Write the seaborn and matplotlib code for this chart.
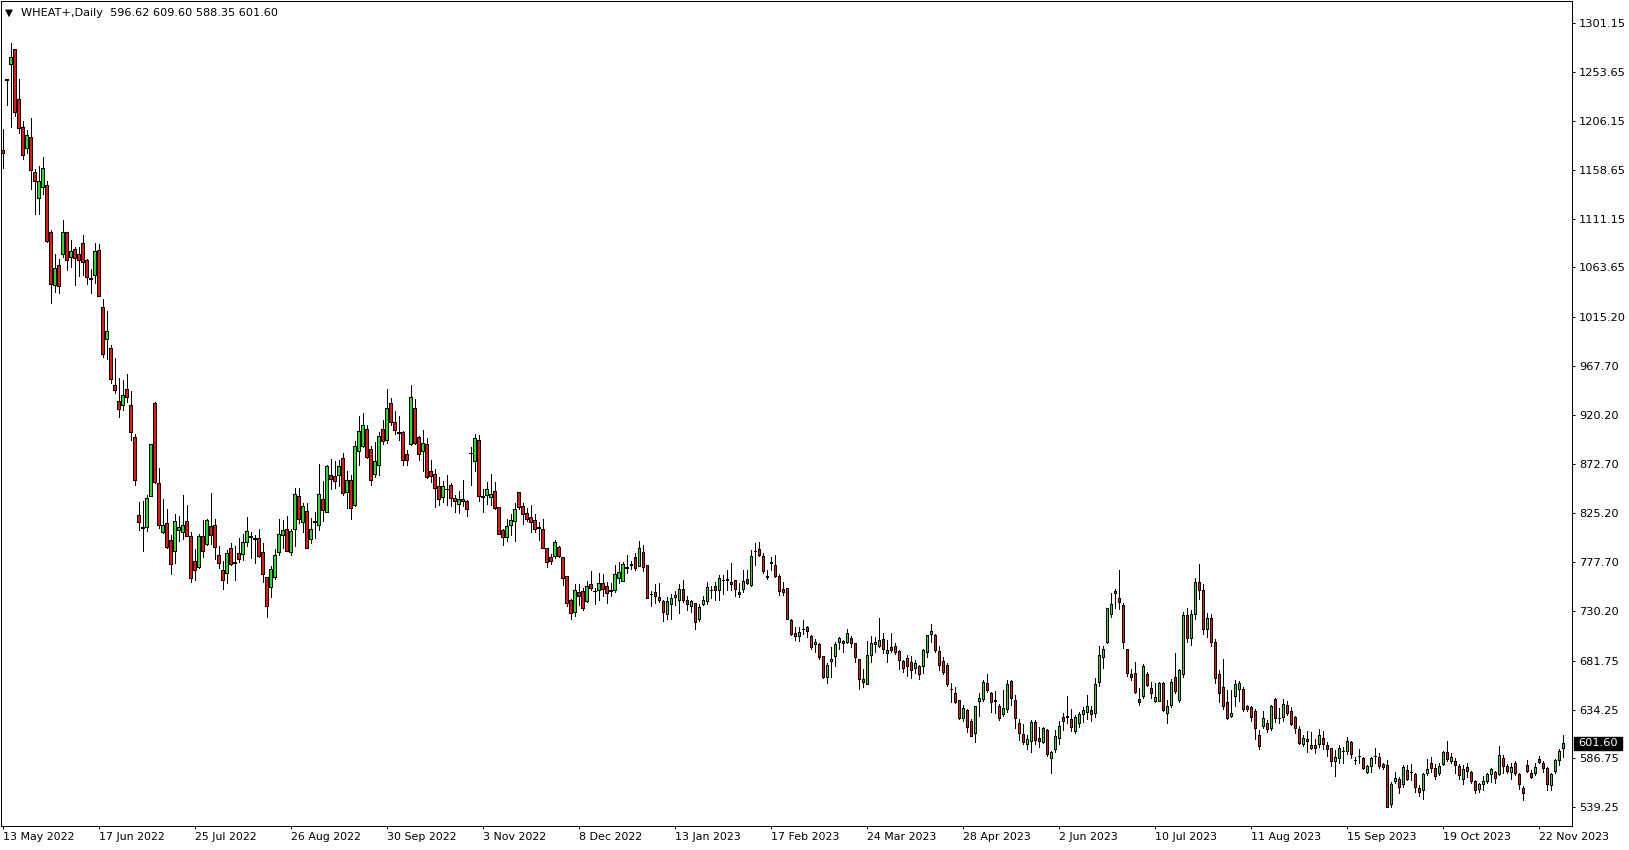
import matplotlib
matplotlib.use("Agg")
import matplotlib.pyplot as plt
import matplotlib.transforms as mtransforms
from matplotlib.patches import Rectangle
import numpy as np
import pandas as pd
import seaborn as sns

# ---------------- data ----------------
symbol = "WHEAT+"
timeframe = "Daily"
start_date = "2022-05-13"
holidays = ["2022-05-30", "2022-06-20", "2022-07-04", "2022-09-05", "2022-11-24",
            "2022-12-26", "2023-01-02", "2023-01-16", "2023-02-20", "2023-04-07",
            "2023-05-29", "2023-06-19", "2023-07-04", "2023-09-04", "2023-11-23"]

opens = [
    1178, 1246.5, 1261, 1276, 1227, 1200, 1180, 1190, 1156, 1131,
    1141.5, 1144, 1098, 1047, 1066, 1077, 1098, 1074, 1082, 1077,
    1087, 1071, 1053, 1056, 1081, 1025, 994, 985, 949, 934,
    930, 946, 930, 899, 823, 812, 812, 842, 932, 854,
    807, 815, 799, 788, 809, 807, 817, 803, 779, 773,
    803, 795, 812.5, 813, 784, 769.5, 767, 791, 777.5, 786,
    785, 797, 802.5, 801, 801, 787, 763, 753, 763, 787,
    804, 810, 787, 810, 842, 816, 827, 800, 817, 813.5,
    839, 826.5, 862, 861, 862, 879, 846, 857, 833, 885,
    890.5, 907, 887, 863, 872, 907, 896, 932, 914, 903.5,
    904, 882, 892, 927, 899, 885, 892, 866, 863, 851,
    841, 848.5, 852, 840, 833.6, 839, 837, 883.5, 876, 896,
    841.5, 843, 841, 846.5, 831, 808.6, 802, 813, 817, 845.5,
    832, 825, 821.6, 818, 811.5, 810, 791.5, 782, 783, 792.5,
    782, 764, 741, 729, 748, 749, 740, 756, 749.5, 750,
    757, 754, 749, 750, 762, 759, 772.5, 775.5, 782, 774,
    787, 775, 746.5, 748, 744, 740, 727, 737, 744, 741,
    751, 741, 735, 738, 722, 737, 740, 750.5, 754.6, 750,
    760.5, 760.5, 758, 760, 748, 751, 760.7, 755, 788.5, 790,
    783, 763.5, 777.5, 775, 764, 751, 752, 721, 709, 706,
    712.5, 714, 706, 697.6, 698, 686, 666, 681, 686.6, 699.6,
    701, 699.6, 704, 698.6, 683, 663.6, 659, 687, 697.6, 696.3,
    702.5, 689, 694.7, 696, 691, 681.4, 684, 680, 674.3, 676.6,
    676.6, 690.5, 707.3, 706.7, 691, 681.7, 677.5, 654.5, 650.7, 643.6,
    625.7, 633.8, 623, 611, 642.9, 644.5, 659.7, 650, 643.5, 637.7,
    629.6, 634.5, 662, 644, 621, 610.5, 600.5, 604, 622, 606.3,
    603, 614.4, 587.5, 595.6, 607, 626.7, 627.5, 625, 613.8, 621,
    630, 632, 634, 631, 661, 685.6, 699.5, 727, 749.4, 743,
    736, 692.7, 668.8, 670, 644.5, 647.7, 669, 655, 643, 643,
    660, 630.6, 638.7, 665.5, 644, 668.5, 726, 704, 727, 758,
    750, 712, 723, 700, 668.8, 656, 642, 628, 647.4, 653.9,
    654, 637.7, 636.4, 632.8, 609.5, 618.3, 621.5, 616, 644.2, 626.4,
    627.3, 638.7, 632.8, 626.7, 615.4, 600.6, 605.3, 599.8, 599.8, 600.5,
    606.3, 599.8, 596.6, 584.6, 586.9, 594.3, 594.3, 602.4, 585.3, 589.1,
    586.9, 573.3, 579.4, 589.1, 587.8, 581, 580.4, 542.2, 565.2, 566.8,
    561.9, 575.5, 573.9, 571.3, 557.7, 556.1, 572.3, 582, 577.2, 572.3,
    581, 593, 584.1, 584.1, 579.3, 566.4, 578, 573.8, 565.1, 557,
    561.9, 565.1, 571.2, 573.2, 571.6, 586.8, 579.3, 573.2, 582.6, 571.6,
    558.3, 580.3, 572.2, 572.8, 585.8, 582.6, 577.1, 560.9, 574.5, 585.1,
    596.62,
]

highs = [
    1198, 1247, 1282, 1276, 1247, 1206, 1197, 1209, 1159, 1162,
    1171, 1148, 1100, 1077, 1072, 1110, 1098, 1090, 1083, 1083,
    1095, 1072, 1062, 1087, 1086, 1033, 1021, 988, 976, 956,
    954, 960, 944, 902, 836, 837, 843, 892, 933, 869,
    839, 829, 804, 824, 822, 843, 833, 807, 790, 805,
    818, 819, 845, 819, 793, 779, 789, 796, 793, 801,
    805, 821, 807, 804, 810, 796, 763, 774, 790, 819,
    818, 822, 810, 849, 849, 835, 834.5, 820, 826.5, 873,
    856, 872, 878, 876, 877, 883, 866, 862, 895, 919,
    922, 911, 890, 894, 903.5, 915, 946, 937, 924, 919,
    905, 886, 949.5, 936, 900, 906, 898, 877, 868, 860,
    856, 862, 854, 843, 846.5, 857, 838, 889, 902, 901,
    848, 855, 863, 855, 831, 810, 819, 824, 834.5, 845.5,
    834.5, 830, 833, 824, 816, 819, 791.5, 785, 799, 793,
    782, 764, 742, 756, 756, 752, 759, 769, 752, 767,
    766, 758.5, 757.5, 775, 778, 778, 784, 778.5, 786, 798,
    794, 775, 749, 756, 757, 741, 744, 746, 749, 756,
    760, 745, 741, 738, 737, 744.5, 758, 754, 758.5, 765,
    765, 770, 777, 760, 757, 770, 770, 789, 796, 797,
    786, 770, 782, 784, 766, 758, 752.6, 721.9, 714, 714,
    721, 715, 706.4, 703, 699, 686, 679, 695, 700, 705,
    702, 712, 706, 699, 683, 674, 701, 706, 705, 723,
    709, 702, 709, 698.6, 692, 682.4, 687, 686, 682, 677.5,
    692.7, 707, 717, 707.6, 696, 685.6, 679, 660, 656.5, 644,
    638.7, 634.8, 625, 638, 650, 663, 669, 651.6, 652, 640,
    653, 663, 663, 648, 625, 620, 609.6, 624, 624, 617,
    617, 615, 594, 614, 623, 630.6, 647, 635, 629, 632,
    637, 648, 637.7, 665, 696, 696, 733.2, 747, 751, 770,
    737.4, 692.7, 674, 680, 655, 678.5, 670.4, 661, 660, 661,
    661, 644, 663.6, 689, 674, 729, 733, 731, 762, 776,
    756, 728, 727, 703, 672.7, 683, 653, 653, 663, 662.3,
    656, 638.7, 637.7, 634.5, 614.4, 632.8, 624, 638.7, 645.8, 635.4,
    644.2, 643, 637, 628, 618.3, 610, 613, 612.1, 605.6, 615,
    613.4, 603, 596.6, 595, 599.8, 597.5, 607.9, 604, 588.5, 595.6,
    587.8, 580.4, 588.5, 596.6, 591.7, 582.6, 585.3, 564.2, 573.9, 569,
    580.4, 580.4, 581, 572.3, 561, 572.3, 585.9, 588.5, 581.4, 582,
    594, 603.8, 592, 586.8, 581.3, 580.3, 581.9, 574.8, 565.7, 562.5,
    570, 572.8, 577.7, 574.5, 598.7, 590, 581.3, 582.6, 584.2, 572.2,
    559.9, 585.1, 575.4, 582.6, 589, 584.5, 578.7, 572.2, 586.1, 596.4,
    609.60,
]

lows = [
    1160, 1221, 1200, 1211, 1194, 1169, 1175, 1140, 1116, 1116,
    1135, 1088, 1029, 1040, 1039, 1074, 1061, 1064, 1047, 1055,
    1056, 1048, 1039, 1049, 1036, 977, 975, 951, 942, 918,
    925, 933, 896, 852, 809, 788, 808, 842, 854, 811,
    806, 791, 766, 777, 798, 800, 803, 758, 760, 772,
    782, 794, 795, 780, 772, 751, 757, 775, 760, 778,
    779.5, 793, 781, 777, 782, 758.5, 724.5, 744, 761, 784,
    791.5, 788, 784, 793, 815, 807, 791, 796, 800.6, 809,
    817, 826.5, 848, 849, 851, 843, 830, 819, 832, 872,
    889, 879, 852, 860, 862, 892, 893, 911, 902, 896,
    872, 872, 891, 892, 877, 866, 859, 855, 831, 833,
    836, 833, 832, 826.5, 825, 832, 822, 852, 866, 837,
    826.5, 834, 833, 829, 805, 794, 798, 804, 798, 829,
    814, 817, 807, 807, 799, 791, 773, 775.6, 781, 782,
    755, 735, 722, 725, 736, 731, 739, 750, 737, 741,
    744.5, 738, 744.5, 748, 757, 759, 767, 771, 770, 774,
    769, 743, 735, 738, 739, 720, 722, 722, 736, 728,
    739, 731, 729, 712, 720, 736, 736.5, 743, 741, 741,
    746.5, 750, 750, 744.5, 744, 748, 756, 754, 775, 783,
    766.6, 761, 770, 763, 745.5, 745.5, 721.9, 707, 702, 701,
    708, 705, 693, 690, 683.4, 665, 660, 666, 677, 693,
    690.5, 698.6, 695, 680, 654, 656.5, 659, 680, 690.5, 695,
    689.5, 680, 690.5, 688, 673.6, 671, 667, 665, 670, 663.6,
    670, 685, 700, 690.5, 673, 668.8, 657, 642, 641, 625,
    623.5, 612.8, 609, 603, 628, 643, 651.6, 632, 630.6, 624,
    628, 632, 638.7, 616, 605, 601, 595.6, 593, 601, 598,
    602, 589.5, 573, 593.4, 601, 614.4, 621, 613, 611, 617,
    622, 625, 623.5, 627, 657.5, 675, 698.6, 724.5, 732.6, 732,
    694.4, 667, 663, 650.7, 639, 645.8, 657.5, 645.8, 642, 643,
    633, 621, 637, 650.7, 642, 666, 700, 697, 722, 742,
    708, 705, 696, 659.7, 642, 635, 625, 627, 637.7, 642.6,
    633, 632.8, 623, 605.3, 595.6, 616, 612.8, 614.4, 622.5, 621,
    623.5, 629, 619.3, 611.8, 600.5, 599, 593.5, 595.9, 592.4, 598.2,
    595.9, 589.5, 579.7, 570, 582.6, 582.6, 591.1, 586.9, 581, 582,
    576.5, 572.3, 573.3, 582.6, 577.8, 576.5, 539.5, 539.9, 562.6, 552.9,
    558.7, 565.8, 565.8, 554.5, 550.3, 547, 570.7, 573.9, 566.5, 570.7,
    580.4, 584.5, 582, 572.2, 566.4, 561.8, 568.3, 562.5, 553.5, 554.4,
    556, 563.2, 564.1, 563.2, 570.6, 572.2, 572.2, 566.4, 570.6, 556.7,
    546.4, 573.8, 567.4, 570.6, 582.6, 573.8, 556, 556, 572.2, 580.3,
    588.35,
]

closes = [
    1175, 1246, 1268, 1215, 1199, 1173, 1192, 1158, 1148, 1148,
    1160, 1089, 1048, 1063, 1046, 1098, 1071, 1080, 1073, 1071,
    1069, 1054, 1052.5, 1080, 1036, 980, 1002, 955, 945, 926,
    940, 938, 904, 857, 816, 811, 840, 892, 855, 813,
    813, 792.5, 776, 817, 812, 813, 803, 762, 770, 803,
    788, 818, 803.5, 792, 777, 760, 786, 776, 777, 780,
    797, 808, 802, 800, 783, 766, 735, 771, 784, 805,
    809, 788, 808, 844, 819, 832, 791.5, 810, 816.5, 844,
    828, 871, 858, 856, 871, 845, 857, 830, 890, 905,
    911, 880, 857, 876, 900, 895, 927, 914, 906, 903,
    877, 877, 938, 893.5, 882, 893.5, 860, 861, 849, 839,
    851, 848, 840, 837, 838.4, 837, 829, 883, 898, 842,
    841, 848, 843.6, 830, 805, 802, 812.5, 818, 829, 831,
    824, 819, 816.7, 810, 811, 791.5, 778, 778.5, 797, 783,
    762, 738, 728, 750, 745, 733, 754, 752.6, 749, 757,
    751, 747, 750.4, 766, 767.5, 776, 772, 775, 772, 791,
    773, 743, 746, 744.5, 741, 729, 740, 743, 745.5, 751,
    741, 736.5, 740, 719, 733.5, 741, 753, 750, 750.4, 762,
    760, 761, 756, 751, 746, 759, 757.5, 783, 788, 784,
    769, 763, 777, 764, 749, 748, 722, 708, 706, 709.3,
    712, 711, 695, 699.6, 685.6, 666, 678, 683, 698, 703.4,
    698.6, 709, 698.6, 685, 663.6, 661.4, 687, 698.6, 700.2, 701.8,
    692.7, 692, 692, 690, 682, 674.3, 677, 673, 679, 668.8,
    692, 706.7, 710.5, 692, 678, 670.4, 658.8, 654, 641.3, 625.7,
    635.4, 617.6, 609, 638, 645.2, 661.3, 653.3, 642, 643, 626.4,
    635.4, 658.8, 645, 625.7, 611, 603, 605.7, 622, 604.7, 604,
    616, 590.8, 592.7, 609, 618.6, 623.5, 627, 617, 626.7, 630,
    634, 637.7, 629.6, 659, 687, 692.7, 733, 736.4, 747, 738.4,
    700, 669.4, 666.2, 651.6, 642, 676.6, 658, 650.7, 646, 659.7,
    634, 637.7, 660.7, 652.6, 673, 726, 704, 727, 758, 750,
    712, 723, 700, 664.6, 650, 638, 626.4, 630.6, 658.7, 659.7,
    634.5, 634.8, 626.7, 616, 599, 625.7, 615, 637.7, 625.7, 626.4,
    639.6, 630.6, 620.2, 616, 602.1, 607.1, 603.5, 596.6, 597.2, 609.5,
    600.5, 595.9, 584.6, 587.8, 596.6, 594.3, 603.7, 591.1, 585.3, 589.1,
    577.2, 579.4, 586.9, 589.1, 579.4, 578.1, 540, 561.9, 567.4, 558.7,
    578.1, 566.5, 573.9, 558.7, 554.5, 571.3, 576.2, 577.8, 570, 579.4,
    592.7, 586.2, 588, 580.3, 570.6, 576.4, 574.8, 565.1, 556, 561.5,
    565.1, 571.6, 576.4, 568, 590, 579.6, 574.8, 578, 572.2, 561.5,
    552.8, 574.8, 569, 578, 583.5, 577.7, 561.5, 571.2, 585.1, 593.9,
    601.60,
]

price_labels = ["1301.15", "1253.65", "1206.15", "1158.65", "1111.15", "1063.65",
                "1015.20", "967.70", "920.20", "872.70", "825.20", "777.70",
                "730.20", "681.75", "634.25", "586.75", "539.25"]
date_labels = ["13 May 2022", "17 Jun 2022", "25 Jul 2022", "26 Aug 2022",
               "30 Sep 2022", "3 Nov 2022", "8 Dec 2022", "13 Jan 2023",
               "17 Feb 2023", "24 Mar 2023", "28 Apr 2023", "2 Jun 2023",
               "10 Jul 2023", "11 Aug 2023", "15 Sep 2023", "19 Oct 2023",
               "22 Nov 2023"]
date_label_step = 24

assert len(opens) == len(highs) == len(lows) == len(closes)

# ---------------- build table ----------------
df = pd.DataFrame({"open": opens, "high": highs, "low": lows, "close": closes})
df["date"] = pd.bdate_range(start_date, periods=len(df), freq="C", holidays=holidays)
df["x"] = np.arange(len(df))

sns.set_theme(style="white")
plt.rcParams["font.family"] = ["DejaVu Sans"]

BULL = "#1ee61e"
BEAR = "#ea1515"
PX = 72 / 100.0  # one pixel in points

W, H = 1629, 850
fig = plt.figure(figsize=(W / 100, H / 100), dpi=100)
fig.patch.set_facecolor("white")
ax = fig.add_axes([1 / W, 24 / H, 1571 / W, 825 / H])
ax.set_facecolor("white")

o = df["open"].to_numpy(float)
c = df["close"].to_numpy(float)
bottoms = np.minimum(o, c)
heights = np.abs(c - o)
colors = np.where(c >= o, BULL, BEAR)

ax.vlines(df["x"], df["low"], df["high"], color="black", linewidth=PX, zorder=1,
          antialiased=False)
ax.bar(df["x"], heights, bottom=bottoms, width=0.62, color=colors,
       edgecolor="black", linewidth=PX, zorder=2, antialiased=False)

ax.set_xlim(-0.425, 392.3)
ax.set_ylim(521.15, 1322.4)

for s in ax.spines.values():
    s.set_visible(True)
    s.set_color("black")
    s.set_linewidth(PX)

ax.yaxis.tick_right()
ax.set_yticks([float(v) for v in price_labels])
ax.set_yticklabels(price_labels)
ax.tick_params(axis="y", which="major", right=True, left=False, direction="out",
               length=3 * PX, width=PX, pad=4 * PX, labelsize=8.2, colors="black")

xt = [i * date_label_step for i in range(len(date_labels))]
ax.set_xticks(xt)
ax.set_xticklabels(date_labels)
for lab in ax.get_xticklabels():
    lab.set_horizontalalignment("left")
ax.tick_params(axis="x", which="major", bottom=True, top=False, direction="out",
               length=3 * PX, width=PX, pad=3 * PX, labelsize=7.9, colors="black")
ax.grid(False)

# current price label on the right axis
last = df.iloc[-1]
trans = mtransforms.blended_transform_factory(ax.transAxes, ax.transData)
box_w = 48 / 1571
box_h = 13 / 1.0296
ax.add_patch(Rectangle((1 + 2 / 1571, last["close"] - box_h / 2), box_w, box_h,
                       transform=trans, facecolor="black", edgecolor="black",
                       clip_on=False, zorder=5))
ax.text(1 + 6 / 1571, last["close"], f"{last['close']:.2f}", transform=trans,
        ha="left", va="center", color="white", fontsize=8.2, zorder=6, clip_on=False)

# header
fig.text(5 / W, 1 - 12.5 / H, "\u25BC", fontsize=7.5, ha="left", va="center", color="black")
fig.text(21 / W, 1 - 12.5 / H,
         f"{symbol},{timeframe}  {last['open']:.2f} {last['high']:.2f} "
         f"{last['low']:.2f} {last['close']:.2f}",
         fontsize=8.1, ha="left", va="center", color="black")

fig.savefig("out.png", dpi=100, facecolor="white")
